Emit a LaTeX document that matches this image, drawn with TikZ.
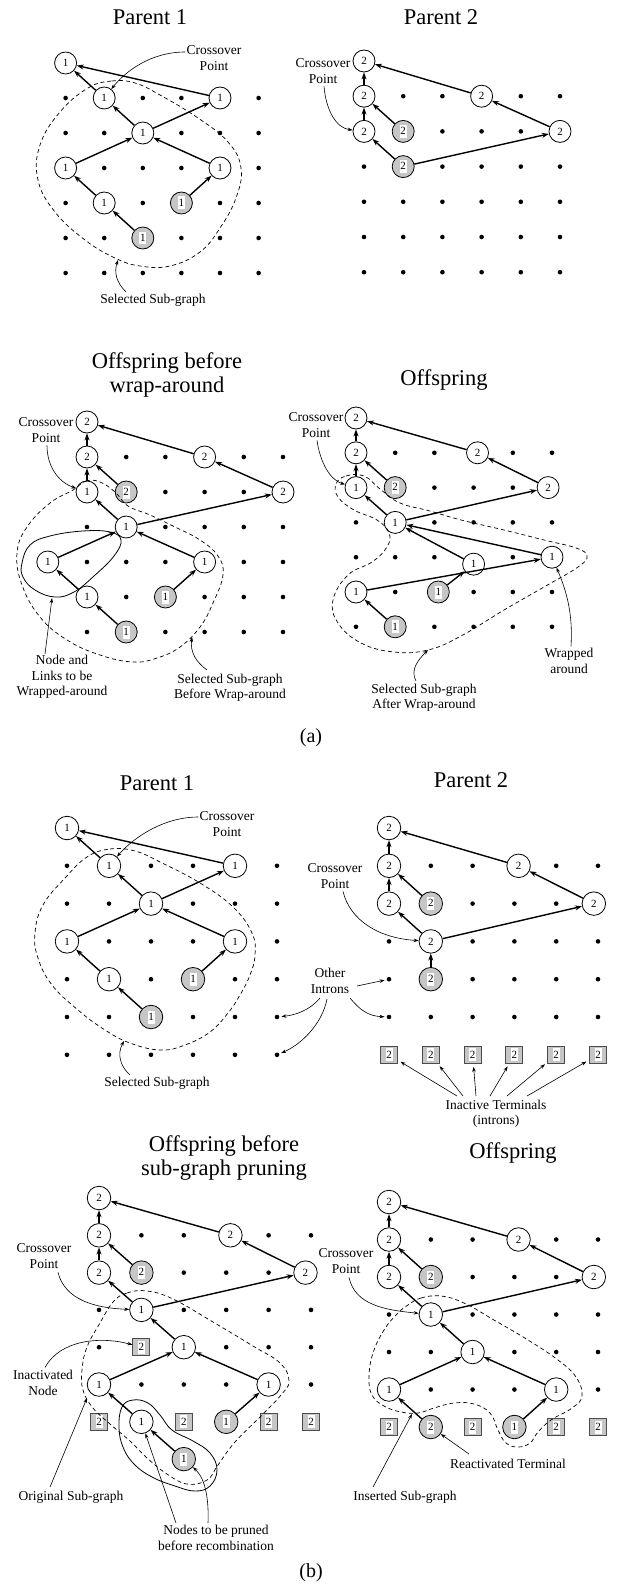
\documentclass[tikz,border=0pt]{standalone}
\usepackage{fontspec}
\setmainfont{Liberation Serif}
\usetikzlibrary{arrows.meta,calc}
\newcommand\tfont{\fontsize{22.5}{24}\selectfont}
\newcommand\lfont{\fontsize{13.5}{15.3}\selectfont}
\newcommand\nfont{\fontsize{11}{11}\selectfont}
\newcommand\wb[1]{{\setlength{\fboxsep}{0.7pt}\colorbox{white}{\rule[-2.6pt]{0pt}{11.6pt}\makebox[5.6pt]{#1}}}}
\def\nsz{22pt}
\tikzset{
 nd/.style={circle,draw,line width=0.8pt,fill=white,minimum size=\nsz,inner sep=0pt,font=\nfont},
 tm/.style={nd,fill=gray!45},
 sq/.style={rectangle,draw=black!70,line width=0.9pt,fill=gray!45,minimum size=17pt,inner sep=0pt,font=\nfont},
 dot/.style={circle,fill=black,minimum size=4.6pt,inner sep=0pt},
 ed/.style={line width=1.4pt,-{Stealth[length=7pt,width=5pt]}},
 lead/.style={line width=0.6pt,-{Stealth[length=5pt,width=3.5pt]}},
 sel/.style={line width=0.7pt,dash pattern=on 4pt off 3pt},
 lp/.style={line width=0.8pt},
 ttl/.style={font=\tfont,align=center,inner sep=0pt},
 lbl/.style={font=\lfont,align=center,inner sep=0pt},
}
\begin{document}
\begin{tikzpicture}[x=1pt,y=-1pt]
\useasboundingbox (0,0) rectangle (623,1589);
%================ (a) Parent 1
\begin{scope}[shift={(65.6,63)},x=38.6pt,y=-35pt]
\node[nd] (a1A) at (0,0) {1};
\node[nd] (a1B) at (1,1) {1};
\node[nd] (a1C) at (4,1) {1};
\node[nd] (a1D) at (2,2) {1};
\node[nd] (a1E) at (0,3) {1};
\node[nd] (a1F) at (4,3) {1};
\node[nd] (a1G) at (1,4) {1};
\node[tm] (a1H) at (3,4) {\wb{1}};
\node[tm] (a1I) at (2,5) {\wb{1}};
\foreach \c/\r in {0/1,2/1,3/1,5/1,0/2,1/2,3/2,4/2,5/2,1/3,2/3,3/3,5/3,0/4,2/4,4/4,5/4,0/5,1/5,3/5,4/5,5/5,0/6,1/6,2/6,3/6,4/6,5/6}
  \node[dot] (a1d\c\r) at (\c,\r) {};
\end{scope}
\draw[ed] (a1B) -- (a1A);
\draw[ed] (a1C) -- (a1A);
\draw[ed] (a1D) -- (a1B);
\draw[ed] (a1D) -- (a1C);
\draw[ed] (a1E) -- (a1D);
\draw[ed] (a1F) -- (a1D);
\draw[ed] (a1G) -- (a1E);
\draw[ed] (a1H) -- (a1F);
\draw[ed] (a1I) -- (a1G);
\node[ttl] (a1t) at (150,17) {Parent 1};
\node[lbl] (a1cp) at (214,58) {Crossover\\Point};
\draw[lead] ($(a1cp.west)+(-1,-6)$) .. controls (150,52) and (125,72) .. (a1B);
\draw[sel] plot[smooth cycle,tension=0.7] coordinates {(88,88) (112,81) (135,83) (160,95) (198,118) (228,142) (241,168) (236,198) (220,228) (200,252) (170,266) (140,266) (115,258) (85,240) (55,212) (38,180) (40,145) (60,112)};
\coordinate (a1ss) at (118,260);
\node[lbl] (a1sl) at (153,300) {Selected Sub-graph};
\draw[lead] (126,292) .. controls (116,282) and (114,272) .. (a1ss);
%================ (a) Parent 2
\begin{scope}[shift={(364,61)},x=39.2pt,y=-35.2pt]
\node[nd] (a2P) at (0,0) {2};
\node[nd] (a2Q) at (0,1) {2};
\node[nd] (a2R) at (3,1) {2};
\node[nd] (a2S) at (0,2) {2};
\node[tm] (a2T) at (1,2) {\wb{2}};
\node[nd] (a2U) at (5,2) {2};
\node[tm] (a2V) at (1,3) {\wb{2}};
\foreach \c/\r in {1/1,2/1,4/1,5/1,2/2,3/2,4/2,0/3,2/3,3/3,4/3,5/3,0/4,1/4,2/4,3/4,4/4,5/4,0/5,1/5,2/5,3/5,4/5,5/5,0/6,1/6,2/6,3/6,4/6,5/6}
  \node[dot] (a2d\c\r) at (\c,\r) {};
\end{scope}
\draw[ed] (a2Q) -- (a2P);
\draw[ed] (a2R) -- (a2P);
\draw[ed] (a2S) -- (a2Q);
\draw[ed] (a2T) -- (a2Q);
\draw[ed] (a2U) -- (a2R);
\draw[ed] (a2V) -- (a2S);
\draw[ed] (a2V) -- (a2U);
\node[ttl] (a2t) at (441,17) {Parent 2};
\node[lbl] (a2cp) at (323,71) {Crossover\\Point};
\draw[lead] ($(a2cp.south)+(1,3)$) .. controls (326,110) and (336,128) .. (a2S);
%================ (a) Offspring before wrap-around
\begin{scope}[shift={(87,422)},x=39.2pt,y=-35pt]
\node[nd] (a3P) at (0,0) {2};
\node[nd] (a3Q) at (0,1) {2};
\node[nd] (a3R) at (3,1) {2};
\node[nd] (a3B) at (0,2) {1};
\node[tm] (a3T) at (1,2) {\wb{2}};
\node[nd] (a3U) at (5,2) {2};
\node[nd] (a3D) at (1,3) {1};
\node[nd] (a3E) at (-1,4) {1};
\node[nd] (a3F) at (3,4) {1};
\node[nd] (a3G) at (0,5) {1};
\node[tm] (a3H) at (2,5) {\wb{1}};
\node[tm] (a3I) at (1,6) {\wb{1}};
\foreach \c/\r in {1/1,2/1,4/1,5/1,2/2,3/2,4/2,0/3,2/3,3/3,4/3,5/3,0/4,1/4,2/4,4/4,5/4,1/5,3/5,4/5,5/5,0/6,2/6,3/6,4/6,5/6}
  \node[dot] (a3d\c\r) at (\c,\r) {};
\end{scope}
\draw[ed] (a3Q) -- (a3P);
\draw[ed] (a3R) -- (a3P);
\draw[ed] (a3B) -- (a3Q);
\draw[ed] (a3T) -- (a3Q);
\draw[ed] (a3U) -- (a3R);
\draw[ed] (a3D) -- (a3B);
\draw[ed] (a3D) -- (a3U);
\draw[ed] (a3E) -- (a3D);
\draw[ed] (a3F) -- (a3D);
\draw[ed] (a3G) -- (a3E);
\draw[ed] (a3H) -- (a3F);
\draw[ed] (a3I) -- (a3G);
\node[ttl] (a3t) at (167,375) {Offspring before\\wrap-around};
\node[lbl] (a3cp) at (46,430) {Crossover\\Point};
\draw[lead] ($(a3cp.south)+(1,3)$) .. controls (47,466) and (58,482) .. (a3B);
\draw[lp] plot[smooth cycle,tension=0.7] coordinates {(22,563) (30,545) (50,536) (83,531) (110,532) (121,540) (114,556) (94,576) (74,592) (55,597) (35,590) (23,577)};
\coordinate (a3lp) at (52,598);
\node[lbl] (a3nl) at (62,677) {Node and\\Links to be\\Wrapped-around};
\draw[lead] (45,654) -- (a3lp);
\draw[sel] plot[smooth cycle,tension=0.7] coordinates {(73,490) (86,481) (100,482) (115,492) (128,506) (150,515) (175,527) (200,540) (218,556) (223,575) (213,603) (200,627) (180,647) (157,658) (133,662) (100,655) (67,640) (40,617) (22,585) (17,553) (27,527) (50,503)};
\coordinate (a3sp) at (192,637);
\node[lbl] (a3sl) at (230,688) {Selected Sub-graph\\Before Wrap-around};
\draw[lead] (207,670) .. controls (196,662) and (190,652) .. (a3sp);
%================ (a) Offspring
\begin{scope}[shift={(356,418)},x=39.2pt,y=-34.8pt]
\node[nd] (a4P) at (0,0) {2};
\node[nd] (a4Q) at (0,1) {2};
\node[nd] (a4R) at (3.1,1) {2};
\node[nd] (a4B) at (0,2) {1};
\node[tm] (a4T) at (1,2) {\wb{2}};
\node[nd] (a4U) at (4.9,2) {2};
\node[nd] (a4D) at (1,3) {1};
\node[nd] (a4F) at (3,4.2) {1};
\node[nd] (a4E) at (5,4) {1};
\node[nd] (a4G) at (0,5) {1};
\node[tm] (a4H) at (2.1,5) {\wb{1}};
\node[tm] (a4I) at (1,6) {\wb{1}};
\foreach \c/\r in {1/1,2/1,4/1,5/1,2/2,3/2,4/2,0/3,2/3,3/3,4/3,5/3,0/4,1/4,2/4,4/4,1/5,3/5,4/5,5/5,0/6,2/6,3/6,4/6,5/6}
  \node[dot] (a4d\c\r) at (\c,\r) {};
\end{scope}
\draw[ed] (a4Q) -- (a4P);
\draw[ed] (a4R) -- (a4P);
\draw[ed] (a4B) -- (a4Q);
\draw[ed] (a4T) -- (a4Q);
\draw[ed] (a4U) -- (a4R);
\draw[ed] (a4D) -- (a4B);
\draw[ed] (a4D) -- (a4U);
\draw[ed] (a4E) -- (a4D);
\draw[ed] (a4F) -- (a4D);
\draw[ed] (a4G) -- (a4E);
\draw[ed] (a4H) -- (a4F);
\draw[ed] (a4I) -- (a4G);
\node[ttl] (a4t) at (444,380) {Offspring};
\node[lbl] (a4cp) at (316,425) {Crossover\\Point};
\draw[lead] ($(a4cp.south)+(1,3)$) .. controls (320,462) and (330,480) .. (a4B);
\draw[sel] plot[smooth cycle,tension=0.7] coordinates {(336,484) (346,476) (364,476) (380,489) (400,503) (430,511) (461,520) (504,530) (544,540) (576,548) (587,556) (578,567) (544,587) (504,610) (461,636) (428,650) (394,652) (361,643) (338,623) (333,600) (348,575) (372,562) (387,547) (389,533) (377,520) (354,510) (338,497)};
\node[lbl] (a4wl) at (569,661) {Wrapped\\around};
\draw[lead] ($(a4wl.north)+(2,-2)$) .. controls (573,615) and (567,592) .. (a4E);
\coordinate (a4sp) at (428,650);
\node[lbl] (a4sl) at (424,698) {Selected Sub-graph\\After Wrap-around};
\draw[lead] (416,681) .. controls (410,670) and (418,660) .. (a4sp);
\node[font=\fontsize{20}{22}\selectfont] (capa) at (311,738) {(a)};
%================ (b)
\def\nsz{23.5pt}
%---- Parent 1
\begin{scope}[shift={(67,828)},x=42pt,y=-37.8pt]
\node[nd] (b1A) at (0,0) {1};
\node[nd] (b1B) at (1,1) {1};
\node[nd] (b1C) at (4,1) {1};
\node[nd] (b1D) at (2,2) {1};
\node[nd] (b1E) at (0,3) {1};
\node[nd] (b1F) at (4,3) {1};
\node[nd] (b1G) at (1,4) {1};
\node[tm] (b1H) at (3,4) {\wb{1}};
\node[tm] (b1I) at (2,5) {\wb{1}};
\foreach \c/\r in {0/1,2/1,3/1,5/1,0/2,1/2,3/2,4/2,5/2,1/3,2/3,3/3,5/3,0/4,2/4,4/4,5/4,0/5,1/5,3/5,4/5,5/5,0/6,1/6,2/6,3/6,4/6,5/6}
  \node[dot] (b1d\c\r) at (\c,\r) {};
\end{scope}
\draw[ed] (b1B) -- (b1A);
\draw[ed] (b1C) -- (b1A);
\draw[ed] (b1D) -- (b1B);
\draw[ed] (b1D) -- (b1C);
\draw[ed] (b1E) -- (b1D);
\draw[ed] (b1F) -- (b1D);
\draw[ed] (b1G) -- (b1E);
\draw[ed] (b1H) -- (b1F);
\draw[ed] (b1I) -- (b1G);
\node[ttl] (b1t) at (157,783) {Parent 1};
\node[lbl] (b1cp) at (227,824) {Crossover\\Point};
\draw[lead] ($(b1cp.west)+(-1,-7)$) .. controls (165,817) and (135,836) .. (b1B);
\draw[sel] plot[smooth cycle,tension=0.7] coordinates {(87,857) (110,849) (135,851) (160,862) (200,883) (233,907) (252,933) (255,955) (250,975) (240,995) (228,1013) (210,1032) (185,1045) (160,1050) (130,1043) (105,1030) (78,1010) (52,985) (38,958) (35,933) (43,905) (65,878)};
\coordinate (b1ss) at (124,1041);
\node[lbl] (b1sl) at (157,1083) {Selected Sub-graph};
\draw[lead] (130,1075) .. controls (120,1066) and (117,1054) .. (b1ss);
%---- Parent 2
\begin{scope}[shift={(389,828)},x=41.8pt,y=-37.8pt]
\node[nd] (b2P) at (0,0) {2};
\node[nd] (b2Q) at (0,1) {2};
\node[nd] (b2R) at (3.1,1) {2};
\node[nd] (b2S) at (0,2) {2};
\node[tm] (b2T) at (1,2) {\wb{2}};
\node[nd] (b2U) at (4.9,2) {2};
\node[nd] (b2V) at (1,3) {2};
\node[tm] (b2W) at (1,4) {\wb{2}};
\foreach \c/\r in {1/1,2/1,4/1,5/1,2/2,3/2,4/2,0/3,2/3,3/3,4/3,5/3,0/4,2/4,3/4,4/4,5/4,0/5,1/5,2/5,3/5,4/5,5/5}
  \node[dot] (b2d\c\r) at (\c,\r) {};
\foreach \c in {0,...,5}
  \node[sq] (b2s\c) at (\c,6) {\wb{2}};
\end{scope}
\draw[ed] (b2Q) -- (b2P);
\draw[ed] (b2R) -- (b2P);
\draw[ed] (b2S) -- (b2Q);
\draw[ed] (b2T) -- (b2Q);
\draw[ed] (b2U) -- (b2R);
\draw[ed] (b2V) -- (b2S);
\draw[ed] (b2V) -- (b2U);
\draw[ed] (b2W) -- (b2V);
\node[ttl] (b2t) at (471,780) {Parent 2};
\node[lbl] (b2cp) at (335,876) {Crossover\\Point};
\draw[lead] ($(b2cp.south)+(8,3)$) .. controls (350,920) and (378,938) .. (b2V);
\node[lbl] (oi) at (330,981) {Other\\Introns};
\draw[lead,shorten >=2pt] (357,986) -- (b2d04);
\draw[lead,shorten >=2pt] (350,998) .. controls (360,1010) and (368,1016) .. (b2d05);
\draw[lead,shorten >=2pt] (320,998) .. controls (310,1010) and (296,1015) .. (b1d55);
\draw[lead,shorten >=2pt] (327,999) .. controls (322,1025) and (300,1045) .. (b1d56);
\node[lbl] (it) at (496,1114) {Inactive Terminals\\(introns)};
\draw[lead,shorten >=3pt] (457,1096) -- (b2s0);
\draw[lead,shorten >=3pt] (463,1096) -- (b2s1);
\draw[lead,shorten >=3pt] (476,1096) -- (b2s2);
\draw[lead,shorten >=3pt] (490,1096) -- (b2s3);
\draw[lead,shorten >=3pt] (507,1096) -- (b2s4);
\draw[lead,shorten >=3pt] (527,1096) -- (b2s5);
%---- Offspring before sub-graph pruning
\begin{scope}[shift={(99,1198)},x=42.4pt,y=-37.3pt]
\node[nd] (b3P) at (0,0) {2};
\node[nd] (b3Q) at (0,1) {2};
\node[nd] (b3R) at (3.1,1) {2};
\node[nd] (b3S) at (0,2) {2};
\node[tm] (b3T) at (1,2) {\wb{2}};
\node[nd] (b3U) at (4.87,2) {2};
\node[nd] (b3X) at (1,3) {1};
\node[sq] (b3n) at (1,4) {\wb{2}};
\node[nd] (b3D) at (2,4) {1};
\node[nd] (b3E) at (0,5) {1};
\node[nd] (b3F) at (4,5) {1};
\node[sq] (b3s0) at (0,6) {\wb{2}};
\node[nd] (b3G) at (1,6) {1};
\node[sq] (b3s2) at (2,6) {\wb{2}};
\node[tm] (b3H) at (3,6) {\wb{1}};
\node[sq] (b3s4) at (4,6) {\wb{2}};
\node[sq] (b3s5) at (5,6) {\wb{2}};
\node[tm] (b3I) at (2,7) {\wb{1}};
\foreach \c/\r in {1/1,2/1,4/1,5/1,2/2,3/2,4/2,0/3,2/3,3/3,4/3,5/3,0/4,3/4,4/4,5/4,1/5,2/5,3/5,5/5}
  \node[dot] (b3d\c\r) at (\c,\r) {};
\end{scope}
\draw[ed] (b3Q) -- (b3P);
\draw[ed] (b3R) -- (b3P);
\draw[ed] (b3S) -- (b3Q);
\draw[ed] (b3T) -- (b3Q);
\draw[ed] (b3U) -- (b3R);
\draw[ed] (b3X) -- (b3S);
\draw[ed] (b3X) -- (b3U);
\draw[ed] (b3D) -- (b3X);
\draw[ed] (b3E) -- (b3D);
\draw[ed] (b3F) -- (b3D);
\draw[ed] (b3G) -- (b3E);
\draw[ed] (b3H) -- (b3F);
\draw[ed] (b3I) -- (b3G);
\node[ttl] (b3t) at (224,1158) {Offspring before\\sub-graph pruning};
\node[lbl] (b3cp) at (44,1256) {Crossover\\Point};
\draw[lead] ($(b3cp.south)+(14,4)$) .. controls (65,1300) and (95,1308) .. (b3X);
\node[lbl] (b3il) at (43,1383) {Inactivated\\Node};
\draw[lead] ($(b3il.north)+(2,-3)$) .. controls (60,1340) and (100,1336) .. (b3n);
\draw[sel] plot[smooth cycle,tension=0.7] coordinates {(113,1302) (127,1293) (147,1291) (173,1299) (213,1322) (253,1346) (280,1363) (289,1381) (281,1395) (262,1415) (235,1442) (218,1465) (207,1480) (187,1484) (167,1474) (147,1458) (130,1441) (110,1424) (93,1408) (83,1390) (82,1370) (87,1347) (100,1323)};
\draw[lp] plot[smooth cycle,tension=0.7] coordinates {(122,1407) (133,1400) (148,1403) (160,1415) (172,1430) (193,1441) (210,1453) (217,1470) (210,1486) (195,1491) (175,1486) (152,1477) (134,1464) (123,1447) (119,1427)};
\coordinate (b3op) at (87,1398);
\node[lbl] (b3ol) at (71,1497) {Original Sub-graph};
\draw[lead] (50,1487) -- (b3op);
\node[lbl] (b3pl) at (216,1538) {Nodes to be pruned\\before recombination};
\draw[lead] (176,1523) -- (b3G);
\draw[lead] (208,1523) .. controls (209,1498) and (205,1478) .. (b3I);
%---- Offspring
\begin{scope}[shift={(389,1202)},x=41.8pt,y=-37.5pt]
\node[nd] (b4P) at (0,0) {2};
\node[nd] (b4Q) at (0,1) {2};
\node[nd] (b4R) at (3.1,1) {2};
\node[nd] (b4S) at (0,2) {2};
\node[tm] (b4T) at (1,2) {\wb{2}};
\node[nd] (b4U) at (4.9,2) {2};
\node[nd] (b4X) at (1,3) {1};
\node[nd] (b4D) at (2,4) {1};
\node[nd] (b4E) at (0,5) {1};
\node[nd] (b4F) at (4,5) {1};
\node[sq] (b4s0) at (0,6) {\wb{2}};
\node[tm] (b4RT) at (1,6) {\wb{2}};
\node[sq] (b4s2) at (2,6) {\wb{2}};
\node[tm] (b4H) at (3,6) {\wb{1}};
\node[sq] (b4s4) at (4,6) {\wb{2}};
\node[sq] (b4s5) at (5,6) {\wb{2}};
\foreach \c/\r in {1/1,2/1,4/1,5/1,2/2,3/2,4/2,0/3,2/3,3/3,4/3,5/3,0/4,1/4,3/4,4/4,5/4,1/5,2/5,3/5,5/5}
  \node[dot] (b4d\c\r) at (\c,\r) {};
\end{scope}
\draw[ed] (b4Q) -- (b4P);
\draw[ed] (b4R) -- (b4P);
\draw[ed] (b4S) -- (b4Q);
\draw[ed] (b4T) -- (b4Q);
\draw[ed] (b4U) -- (b4R);
\draw[ed] (b4X) -- (b4S);
\draw[ed] (b4X) -- (b4U);
\draw[ed] (b4D) -- (b4X);
\draw[ed] (b4E) -- (b4D);
\draw[ed] (b4F) -- (b4D);
\draw[ed] (b4RT) -- (b4E);
\draw[ed] (b4H) -- (b4F);
\node[ttl] (b4t) at (513,1153) {Offspring};
\node[lbl] (b4cp) at (346,1261) {Crossover\\Point};
\draw[lead] ($(b4cp.south)+(3,4)$) .. controls (355,1305) and (385,1310) .. (b4X);
\draw[sel] plot[smooth cycle,tension=0.7] coordinates {(408,1305) (421,1298) (441,1296) (464,1303) (494,1320) (528,1340) (558,1360) (576,1377) (582,1396) (572,1408) (551,1420) (538,1432) (530,1443) (518,1447) (506,1443) (498,1430) (490,1413) (474,1404) (454,1403) (434,1408) (418,1413) (401,1412) (384,1406) (372,1395) (369,1377) (373,1353) (384,1330) (397,1314)};
\node[lbl] (b4rl) at (508,1464) {Reactivated Terminal};
\draw[lead] (469,1454) -- (b4RT);
\coordinate (b4ip) at (412,1414);
\node[lbl] (b4il) at (405,1497) {Inserted Sub-graph};
\draw[lead] (373,1487) -- (b4ip);
\node[font=\fontsize{20}{22}\selectfont] (capb) at (311,1573) {(b)};
\end{tikzpicture}
\end{document}
